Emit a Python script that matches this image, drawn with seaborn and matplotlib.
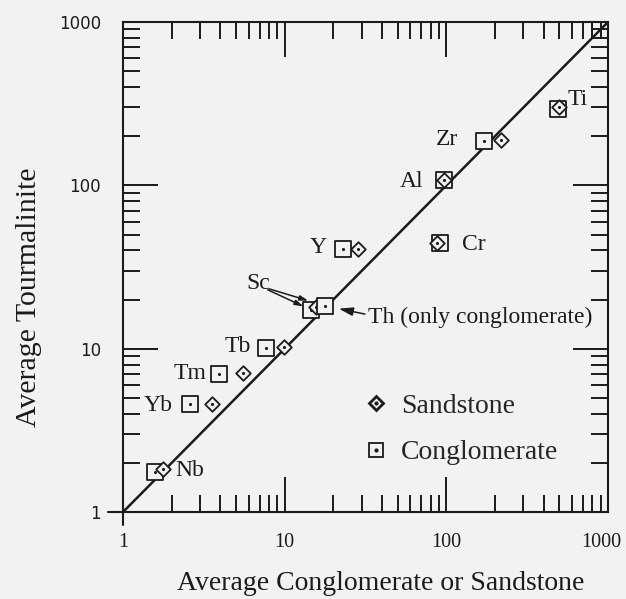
import matplotlib
matplotlib.use("Agg")
import matplotlib.pyplot as plt
from matplotlib.lines import Line2D
from matplotlib.ticker import FixedLocator, FixedFormatter
from matplotlib.transforms import ScaledTranslation
import seaborn as sns

# ---------------- data ----------------
elements = ['Nb', 'Yb', 'Tm', 'Tb', 'Sc', 'Y', 'Al', 'Cr', 'Zr', 'Ti']
# average concentration in sandstone / conglomerate (x) vs tourmalinite (y)
sand_x = [1.77, 3.55, 5.5, 9.9, 15.6, 28.4, 97, 87.5, 218, 497]
sand_y = [1.83, 4.58, 7.1, 10.2, 18.0, 40.8, 108, 44.4, 189, 302]
cong_x = [1.58, 2.6, 3.92, 7.66, 14.5, 22.9, 96.7, 91.3, 171, 490]
cong_y = [1.76, 4.58, 7.0, 10.1, 17.3, 40.8, 108, 44.4, 187, 294]
# thorium only measured in the conglomerate
th_x = [17.8]
th_y = [18.3]

line_ends = [1, 1000]
tick_vals = [1, 10, 100, 1000]
tick_text = ['1', '10', '100', '1000']

# label offsets (points) relative to the conglomerate square, centred text
label_off = {
    'Nb': (25, 0.7), 'Yb': (-23, -0.7), 'Tm': (-21, 0.7), 'Tb': (-20, 0.7),
    'Y': (-18, 0.7), 'Al': (-23, -1.4), 'Cr': (24.5, -1.4), 'Zr': (-27, 0.7),
    'Ti': (14.4, 6.5),
}

INK = '#1b1b1b'
BG = '#f2f2f2'

sns.set_style('ticks')
plt.rcParams['font.family'] = ['Liberation Serif', 'DejaVu Serif']

fig = plt.figure(figsize=(6.26, 5.99), dpi=100, facecolor=BG)
ax = fig.add_axes([0.1965, 0.1452, 0.7748, 0.8181], facecolor=BG)

# 1:1 line
sns.lineplot(x=line_ends, y=line_ends, ax=ax, color=INK, linewidth=1.8, zorder=2)

#=============== markers ===============
mk_kw = dict(color=INK, facecolor=BG, edgecolor=INK, linewidth=1.3, legend=False, ax=ax)
dot_kw = dict(color=INK, marker='o', s=5, linewidth=0, legend=False, ax=ax)

sns.scatterplot(x=cong_x, y=cong_y, marker='s', s=125, zorder=3, **mk_kw)
sns.scatterplot(x=cong_x, y=cong_y, zorder=3.1, **dot_kw)
sns.scatterplot(x=sand_x, y=sand_y, marker='D', s=55, zorder=4, **mk_kw)
sns.scatterplot(x=sand_x, y=sand_y, zorder=4.1, **dot_kw)
sns.scatterplot(x=th_x, y=th_y, marker='s', s=125, zorder=5, **mk_kw)
sns.scatterplot(x=th_x, y=th_y, zorder=5.1, **dot_kw)

ax.set_xscale('log')
ax.set_yscale('log')
ax.set_xlim(1, 1000)
ax.set_ylim(1, 1000)

#=============== labels and arrows ===============
for i, name in enumerate(elements):
    if name in label_off:
        ax.annotate(name, xy=(cong_x[i], cong_y[i]), xytext=label_off[name],
                    textcoords='offset points', ha='center', va='center',
                    fontsize=17, color=INK)

sc = elements.index('Sc')
arrow = dict(arrowstyle='-|>,head_length=0.5,head_width=0.15', color=INK, lw=1.1,
             shrinkA=0)
ax.annotate('Sc', xy=(cong_x[sc], cong_y[sc]), xytext=(-38, 18.7),
            textcoords='offset points', ha='center', va='center', fontsize=17, color=INK)
# two arrows fan out from the Sc label
ax.annotate('', xy=(cong_x[sc], cong_y[sc]), xytext=(-31, 14.4),
            textcoords='offset points', arrowprops=dict(shrinkB=5.8, **arrow))
ax.annotate('', xy=(th_x[0], th_y[0]), xytext=(-40.3, 12.2),
            textcoords='offset points', arrowprops=dict(shrinkB=12.7, **arrow))
ax.annotate('Th (only conglomerate)', xy=(th_x[0], th_y[0]), xytext=(31, -8),
            textcoords='offset points', ha='left', va='center', fontsize=17, color=INK,
            arrowprops=dict(shrinkB=10, relpos=(0, 0.6), **arrow))

#=============== legend ===============
dot = Line2D([], [], ls='none', marker='o', ms=2, color=INK)
dia = Line2D([], [], ls='none', marker='D', ms=7.5, mfc=BG, mec=INK, mew=2.0)
sqr = Line2D([], [], ls='none', marker='s', ms=10, mfc=BG, mec=INK, mew=1.3)
ax.legend([(dia, dot), (sqr, dot)], ['Sandstone', 'Conglomerate'],
          loc='upper left', bbox_to_anchor=(0.459, 0.27), frameon=False,
          fontsize=20, labelspacing=0.75, handletextpad=0.3, handlelength=1.2,
          borderpad=0)

#=============== axes styling ===============
for side in ax.spines.values():
    side.set_linewidth(1.5)
    side.set_color(INK)
    side.set_visible(True)

for axis in (ax.xaxis, ax.yaxis):
    axis.set_major_locator(FixedLocator(tick_vals))
    axis.set_major_formatter(FixedFormatter(tick_text))
ax.tick_params(which='both', direction='in', top=True, right=True, color=INK, width=1.4)
ax.tick_params(which='major', length=25)
ax.tick_params(which='minor', length=12)
ax.tick_params(axis='x', which='major', pad=15, labelsize=14.5, labelcolor=INK)
ax.tick_params(axis='y', which='major', pad=16, labelsize=12, labelcolor=INK)
for lab in ax.get_yticklabels():
    lab.set_family('DejaVu Sans')
# the last x label sits a touch left, inside the page
last = ax.get_xticklabels()[-1]
last.set_transform(last.get_transform() + ScaledTranslation(-5 / 72, 0, fig.dpi_scale_trans))

# little overhang of the axes at the origin
ax.plot([-0.031, 0], [0, 0], transform=ax.transAxes, color=INK, lw=1.5, clip_on=False)
ax.plot([0, 0], [-0.027, 0], transform=ax.transAxes, color=INK, lw=1.5, clip_on=False)

ax.set_xlabel('Average Conglomerate or Sandstone', fontsize=20, color=INK)
ax.set_ylabel('Average Tourmalinite', fontsize=21.5, color=INK)
ax.xaxis.set_label_coords(0.532, -0.12)
ax.yaxis.set_label_coords(-0.167, 0.439)

fig.savefig('out.png', dpi=100, facecolor=BG)
